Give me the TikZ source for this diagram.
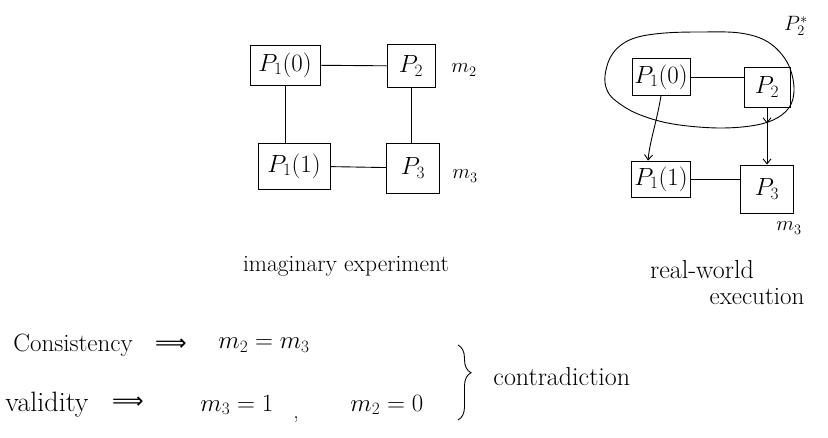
\documentclass[tikz,border=0pt]{standalone}
\usepackage{fontspec}
\newfontfamily\djv{DejaVu Sans}
\usetikzlibrary{shapes.geometric,arrows.meta,decorations.pathreplacing,decorations.markings}
\begin{document}
\begin{tikzpicture}[x=1pt,y=-1pt, line width=0.9pt,
  pbox/.style={draw, inner sep=0pt, font=\fontsize{26}{30}\selectfont},
  lbl/.style={inner sep=0pt, font=\fontsize{22}{26}\selectfont},
  small/.style={inner sep=0pt, font=\fontsize{20}{24}\selectfont},
  tip/.style={-{Straight Barb[length=5pt,width=8pt]}}]
\useasboundingbox (0,0) rectangle (828,437);

% ---------- imaginary experiment ----------
\node[pbox, minimum width=70pt, minimum height=40pt] (a0) at (285,65) {$P_1(0)$};
\node[pbox, minimum width=48pt, minimum height=43pt] (a2) at (411,66) {$P_2$};
\node[pbox, minimum width=72pt, minimum height=46pt] (a1) at (294,166) {$P_1(1)$};
\node[pbox, minimum width=53pt, minimum height=50pt] (a3) at (413,168) {$P_3$};
\node[lbl] (am2) at (464,70) {$m_2$};
\node[lbl] (am3) at (465,176) {$m_3$};
\draw (a0) -- (a2);
\draw (a0.south) -- (a0.south |- a1.north);
\draw (a2.south) -- (a2.south |- a3.north);
\draw (a1) -- (a3);
\node[inner sep=0pt, font=\fontsize{23.5}{27}\selectfont] (cap1) at (346,266) {imaginary experiment};

% ---------- real-world execution ----------
\draw plot[smooth cycle, tension=0.6] coordinates {
  (605,76) (610,58) (621,45) (638,37) (665,33) (700,32) (740,33) (768,42)
  (787,62) (794,88) (788,109) (765,123) (723,128) (673,124)
  (638,114) (616,101) (607,90)};
\node[small] (ps) at (796,26) {$P_2^{*}$};
\node[pbox, minimum width=58pt, minimum height=37pt] (b0) at (661,77) {$P_1(0)$};
\node[pbox, minimum width=46pt, minimum height=40pt] (b2) at (767,87) {$P_2$};
\node[pbox, minimum width=59pt, minimum height=36pt] (b1) at (661,179) {$P_1(1)$};
\node[pbox, minimum width=53pt, minimum height=48pt] (b3) at (767,189) {$P_3$};
\node[lbl] (bm3) at (789,228) {$m_3$};
\draw (b0.east) -- (b2.west |- b0.east);
\draw[tip] (b0.south) .. controls (656,125) and (650,140) .. ([xshift=-13pt]b1.north);
\draw[tip, postaction={decorate}, decoration={markings, mark=at position 0.28 with {\arrow{Straight Barb[length=5pt,width=8pt]}}}] (b2.south) -- (b3.north);
\draw (b1.east) -- (b3.west |- b1.east);
\node[inner sep=0pt, font=\fontsize{26}{30}\selectfont] (cap2) at (702,270) {real-world};
\node[inner sep=0pt, font=\fontsize{25}{29}\selectfont] (cap3) at (757,297) {execution};

% ---------- bottom ----------
\node[inner sep=0pt, anchor=west, font=\fontsize{25}{29}\selectfont] (cons) at (13,345) {Consistency};
\node[lbl] (imp1) at (171,345) {\djv ⟹};
\node[inner sep=0pt, anchor=west, font=\fontsize{26}{30}\selectfont] (eq1) at (218,345) {$m_2 = m_3$};
\node[inner sep=0pt, anchor=west, font=\fontsize{28}{32}\selectfont] (val) at (5,405) {validity};
\node[lbl] (imp2) at (128,403) {\djv ⟹};
\node[inner sep=0pt, anchor=west, font=\fontsize{25}{29}\selectfont] (eq2) at (200,405) {$m_3 = 1$};
\node[lbl] (comma) at (296,420) {,};
\node[inner sep=0pt, anchor=west, font=\fontsize{24}{28}\selectfont] (eq3) at (350,405) {$m_2 = 0$};
\coordinate (bt) at (458,345);
\coordinate (bb) at (458,420);
\draw[decorate, decoration={brace, amplitude=13pt, aspect=0.37}] (bt) -- (bb);
\node[inner sep=0pt, anchor=west, font=\fontsize{26}{30}\selectfont] (contra) at (493,377) {contradiction};
\end{tikzpicture}
\end{document}
